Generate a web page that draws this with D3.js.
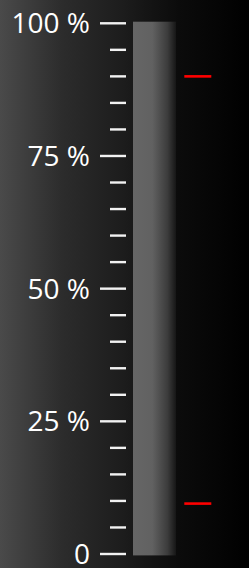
<!DOCTYPE html>
<html>
<head>
<meta charset="utf-8">
<script src="https://cdn.jsdelivr.net/npm/d3@7"></script>
<style>
  html, body { margin: 0; padding: 0; background: #000; }
  svg { display: block; }
</style>
</head>
<body>
<svg id="chart" width="249" height="568"></svg>
<script>
const majorTicks = [0, 25, 50, 75, 100];
const minorTicks = d3.range(0, 101, 5).filter((v) => v % 25 !== 0);
const tickLabels = ["0", "25 %", "50 %", "75 %", "100 %"];
const markers = [90, 9.5];

const width = 249;
const height = 568;

const svg = d3.select("#chart");
const defs = svg.append("defs");

const bg = defs.append("linearGradient").attr("id", "bg");
bg.append("stop").attr("offset", "0").attr("stop-color", "#4a4a4a");
bg.append("stop").attr("offset", "0.25").attr("stop-color", "#2c2c2c");
bg.append("stop").attr("offset", "0.5").attr("stop-color", "#1c1c1c");
bg.append("stop").attr("offset", "0.72").attr("stop-color", "#0b0b0b");
bg.append("stop").attr("offset", "1").attr("stop-color", "#000");

const barGrad = defs.append("linearGradient").attr("id", "bar");
barGrad.append("stop").attr("offset", "0").attr("stop-color", "#666");
barGrad.append("stop").attr("offset", "0.45").attr("stop-color", "#616161");
barGrad.append("stop").attr("offset", "0.8").attr("stop-color", "#3c3c3c");
barGrad.append("stop").attr("offset", "1").attr("stop-color", "#161616");

svg.append("rect").attr("width", width).attr("height", height).attr("fill", "url(#bg)");

const y = d3.scaleLinear().domain([0, 100]).range([554, 23.3]);

// bar track
svg.append("rect")
  .attr("x", 133)
  .attr("y", y(100) - 1.6)
  .attr("width", 43)
  .attr("height", y(0) - y(100) + 3)
  .attr("fill", "url(#bar)");

// ticks
svg.selectAll("line.major")
  .data(majorTicks)
  .join("line")
  .attr("class", "major")
  .attr("x1", 100).attr("x2", 126)
  .attr("y1", (d) => y(d)).attr("y2", (d) => y(d))
  .attr("stroke", "#f2f2f2")
  .attr("stroke-width", 2.4);

svg.selectAll("line.minor")
  .data(minorTicks)
  .join("line")
  .attr("class", "minor")
  .attr("x1", 110).attr("x2", 126)
  .attr("y1", (d) => y(d)).attr("y2", (d) => y(d))
  .attr("stroke", "#f2f2f2")
  .attr("stroke-width", 2.4);

svg.selectAll("text.label")
  .data(majorTicks)
  .join("text")
  .attr("class", "label")
  .attr("x", 90)
  .attr("y", (d) => y(d))
  .attr("dy", "0.36em")
  .attr("text-anchor", "end")
  .attr("fill", "#fff")
  .style("font-family", "'Open Sans', sans-serif")
  .style("font-size", "28px")
  .text((d, i) => tickLabels[i]);

// red markers
svg.selectAll("line.marker")
  .data(markers)
  .join("line")
  .attr("class", "marker")
  .attr("x1", 184.3).attr("x2", 211.3)
  .attr("y1", (d) => y(d)).attr("y2", (d) => y(d))
  .attr("stroke", "#f00")
  .attr("stroke-width", 2.6);
</script>
</body>
</html>
